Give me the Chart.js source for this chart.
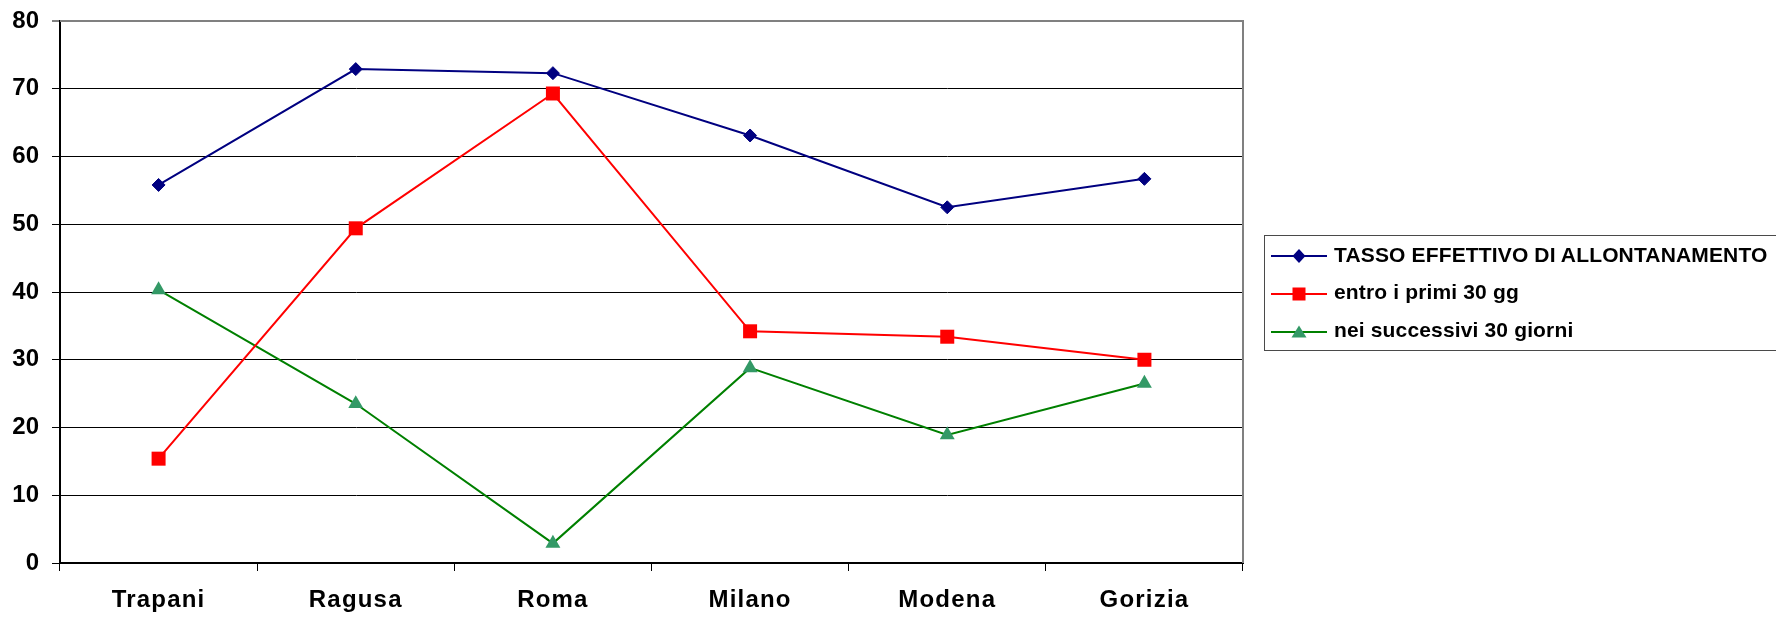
<!DOCTYPE html>
<html>
<head>
<meta charset="utf-8">
<script src="https://cdn.jsdelivr.net/npm/chart.js@4/dist/chart.umd.min.js"></script>
<style>
  html, body { margin: 0; padding: 0; background: #fff; overflow: hidden; }
  #wrap { position: relative; width: 1776px; height: 618px; }
  canvas { position: absolute; left: 0; top: 0; }
  .legbox { position: absolute; left: 1264px; top: 235px; width: 600px; height: 114px; border: 1.5px solid #4a4a4a; box-sizing: content-box; }
  .legtxt { position: absolute; left: 1334px; font: bold 21px "Liberation Sans", Arial, sans-serif; line-height: 21px; color: #000; white-space: nowrap; letter-spacing: 0.15px; }
  .legsym { position: absolute; left: 1271px; width: 57px; height: 20px; }
</style>
</head>
<body>
<div id="wrap">
  <canvas id="c" width="1776" height="618"></canvas>
  <div class="legbox"></div>
  <svg class="legsym" style="top:246px" viewBox="0 0 57 20"><line x1="0" y1="10" x2="56" y2="10" stroke="#000080" stroke-width="2"/><polygon points="28,3 34.5,10 28,17 21.5,10" fill="#000080"/></svg>
  <div class="legtxt" id="lg0" style="top:244px"></div>
  <svg class="legsym" style="top:284px" viewBox="0 0 57 20"><line x1="0" y1="10" x2="56" y2="10" stroke="#FF0000" stroke-width="2"/><rect x="21.5" y="3.5" width="13" height="13" fill="#FF0000"/></svg>
  <div class="legtxt" id="lg1" style="top:281px"></div>
  <svg class="legsym" style="top:322px" viewBox="0 0 57 20"><line x1="0" y1="10" x2="56" y2="10" stroke="#008000" stroke-width="2"/><polygon points="28,3.5 35.5,15.5 20.5,15.5" fill="#339966"/></svg>
  <div class="legtxt" id="lg2" style="top:319px"></div>
</div>
<script>
const categories = ["Trapani", "Ragusa", "Roma", "Milano", "Modena", "Gorizia"];
const seriesNames = ["TASSO EFFETTIVO DI ALLONTANAMENTO", "entro i primi 30 gg", "nei successivi 30 giorni"];
const tassoEffettivo = [55.8, 72.9, 72.3, 63.1, 52.5, 56.7];
const entroPrimi30 = [15.4, 49.4, 69.3, 34.2, 33.4, 30.0];
const neiSuccessivi30 = [40.3, 23.5, 2.9, 28.8, 18.9, 26.5];
const yTicks = [0, 10, 20, 30, 40, 50, 60, 70, 80];

document.getElementById('lg0').textContent = seriesNames[0];
document.getElementById('lg1').textContent = seriesNames[1];
document.getElementById('lg2').textContent = seriesNames[2];

const FONT = '"Liberation Sans", Arial, sans-serif';

const frame = {
  id: 'frame',
  beforeDraw(chart) {
    const xs = chart.scales.x;
    if (!xs._spaced) {
      const orig = xs.drawLabels;
      xs.drawLabels = function (area) {
        const ctx = this.ctx;
        ctx.save();
        ctx.letterSpacing = '1.2px';
        orig.call(this, area);
        ctx.restore();
      };
      xs._spaced = true;
    }
  },
  beforeDatasetsDraw(chart) {
    const { ctx, chartArea: a } = chart;
    ctx.save();
    ctx.strokeStyle = '#808080';
    ctx.lineWidth = 2;
    ctx.beginPath();
    ctx.moveTo(a.left, a.top);
    ctx.lineTo(a.right, a.top);
    ctx.lineTo(a.right, a.bottom);
    ctx.stroke();
    ctx.restore();
  }
};

new Chart(document.getElementById('c'), {
  type: 'line',
  data: {
    labels: categories,
    datasets: [
      { label: seriesNames[0], data: tassoEffettivo, borderColor: '#000080', backgroundColor: '#000080',
        borderWidth: 2, pointStyle: 'rectRot', pointRadius: 6.5, pointBorderWidth: 1, tension: 0 },
      { label: seriesNames[1], data: entroPrimi30, borderColor: '#FF0000', backgroundColor: '#FF0000',
        borderWidth: 2, pointStyle: 'rect', pointRadius: 9.9, pointBorderWidth: 0, tension: 0 },
      { label: seriesNames[2], data: neiSuccessivi30, borderColor: '#008000', backgroundColor: '#339966',
        pointBorderColor: '#339966', borderWidth: 2, pointStyle: 'triangle', pointRadius: 8.6, pointBorderWidth: 0, tension: 0 }
    ]
  },
  options: {
    responsive: false,
    animation: false,
    events: [],
    layout: { padding: { left: 0, top: 21, right: 533, bottom: 0 } },
    plugins: { legend: { display: false }, tooltip: { enabled: false } },
    scales: {
      x: {
        offset: true,
        grid: { display: true, drawOnChartArea: false, drawTicks: true, tickLength: 8, offset: true, color: '#000', lineWidth: 1 },
        border: { display: true, color: '#000', width: 2 },
        ticks: { color: '#000', font: { family: FONT, size: 24, weight: 'bold' }, padding: 15, maxRotation: 0, autoSkip: false },
        afterFit(s) { s.height = 55; s.paddingLeft = 0; s.paddingRight = 0; }
      },
      y: {
        min: 0, max: 80,
        afterBuildTicks(s) { s.ticks = yTicks.map(v => ({ value: v })); },
        grid: {
          color: c => (c.tick && c.tick.value === 80) ? '#808080' : '#000',
          lineWidth: c => (c.tick && c.tick.value === 80) ? 2 : 1,
          tickColor: '#000', tickWidth: 1, tickLength: 8, drawTicks: true
        },
        border: { display: true, color: '#000', width: 2 },
        ticks: { color: '#000', font: { family: FONT, size: 24, weight: 'bold' }, padding: 13 },
        afterFit(s) { s.width = 60; s.paddingTop = 0; s.paddingBottom = 0; }
      }
    }
  },
  plugins: [frame]
});
</script>
</body>
</html>
